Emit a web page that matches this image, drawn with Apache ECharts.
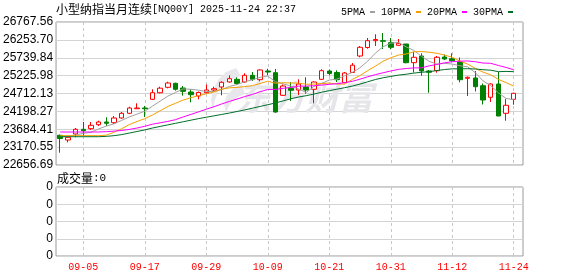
<!DOCTYPE html>
<html>
<head>
<meta charset="utf-8">
<script src="https://cdn.jsdelivr.net/npm/echarts@6/dist/echarts.min.js"></script>
<style>
html,body{margin:0;padding:0;background:#fff;}
.c{width:578px;height:276px;position:absolute;left:0;top:0;}
</style>
</head>
<body>
<div class="c" id="c0"></div>
<script>
const dates = ['09-02','09-03','09-04','09-05','09-08','09-09','09-10','09-11','09-12','09-15','09-16','09-17','09-18','09-19','09-22','09-23','09-24','09-25','09-26','09-29','09-30','10-01','10-02','10-03','10-06','10-07','10-08','10-09','10-10','10-13','10-14','10-15','10-16','10-17','10-20','10-21','10-22','10-23','10-24','10-27','10-28','10-29','10-30','10-31','11-03','11-04','11-05','11-06','11-07','11-10','11-11','11-12','11-13','11-14','11-17','11-18','11-19','11-20','11-21','11-24'];
const openP  = [23510,23375,23548,23683,23700,23815,23893,23873,24008,24143,24275,24295,24545,24735,24890,25005,24870,24755,24640,24735,24813,24899,25043,25120,25043,25235,25109,25359,25310,24660,24862,24813,24899,24833,25120,25359,25316,25028,25316,25790,26035,26230,26230,26173,26098,26135,25598,25790,25359,25368,25761,25713,25618,25149,25158,24936,24603,24985,24143,24545];
const closeP = [23419,23453,23683,23643,23798,23893,23856,24008,24143,24295,24295,24275,24735,24865,25014,24833,24775,24678,24741,24813,24850,25034,25138,25000,25235,25120,25388,25330,24180,24928,24804,24985,24813,25043,25368,25287,25109,25302,25526,26040,26230,26265,26213,26040,26155,25598,25753,25359,25322,25753,25704,25655,25109,25178,24908,24525,24985,24065,24373,24718];
const lowP   = [23010,23309,23453,23490,23663,23778,23778,23835,23988,24123,24275,24037,24525,24718,24862,24793,24649,24459,24545,24712,24755,24660,25023,24965,25023,25072,25063,25235,24160,24640,24497,24669,24706,24430,25100,25235,25043,25005,25310,25753,26000,26078,25991,25983,26078,25580,25316,25224,24735,25310,25675,25609,25034,24640,24770,24396,24468,24065,23930,24390];
const highP  = [23533,23462,23720,23893,23893,23930,24028,24065,24180,24333,24430,24353,24833,24908,25051,25023,24928,24833,24770,24971,24908,25063,25235,25178,25293,25330,25408,25425,25417,24971,25043,25120,25178,25063,25408,25402,25379,25330,25589,26078,26308,26414,26451,26308,26279,26135,25905,25868,25388,25790,25833,25868,25747,25201,25359,25000,25005,25330,24554,24735];
const ma5  = [23470,23490,23520,23565,23599,23694,23775,23840,23940,24039,24119,24203,24349,24493,24637,24744,24844,24833,24808,24768,24771,24823,24915,24967,25051,25105,25176,25215,25051,24989,24926,24845,24742,24915,25003,25099,25124,25222,25318,25453,25641,25873,26055,26158,26181,26054,25952,25781,25637,25557,25578,25559,25509,25480,25311,25075,24941,24732,24571,24533];
const ma10 = [23500,23500,23500,23500,23500,23500,23515,23600,23700,23819,23907,23989,24094,24216,24338,24432,24524,24591,24651,24702,24758,24834,24874,24888,24910,24938,25000,25065,25009,25020,25016,25011,24978,24983,24996,25013,24985,24982,25117,25228,25370,25498,25638,25738,25817,25848,25912,25918,25898,25869,25816,25755,25645,25559,25434,25327,25250,25120,25026,24922];
const ma20 = [23605,23605,23605,23605,23605,23605,23615,23630,23650,23680,23720,23770,23830,23870,23910,23960,24040,24110,24185,24261,24332,24411,24484,24552,24624,24685,24762,24828,24830,24861,24887,24922,24926,24935,24953,24976,24992,25023,25063,25124,25193,25255,25308,25360,25406,25430,25448,25450,25507,25548,25593,25627,25642,25648,25625,25587,25581,25518,25461,25394];
const ma30 = [23470,23470,23470,23470,23470,23470,23480,23500,23530,23575,23620,23665,23720,23765,23810,23855,23900,23945,23990,24030,24070,24110,24150,24195,24240,24290,24340,24390,24440,24500,24560,24611,24649,24696,24748,24794,24836,24879,24925,24983,25048,25114,25164,25203,25241,25266,25299,25322,25341,25372,25401,25421,25420,25426,25416,25396,25382,25340,25347,25340];
const priceTicks = ['22656.69','23170.55','23684.41','24198.27','24712.13','25225.98','25739.84','26253.70','26767.56'];
const volTicks = ['0','0','0','0','0'];
const maNames = ['5PMA','10PMA','20PMA','30PMA'];
const maColors = ['#a0a0a0','#f5a000','#ff00ff','#006f2a'];

const priceMin = parseFloat(priceTicks[0]);
const priceMax = parseFloat(priceTicks[priceTicks.length - 1]);
const candles = dates.map((d, i) => [openP[i], closeP[i], lowP[i], highP[i]]);
const maData = [ma5, ma10, ma20, ma30];

const mono = 'Liberation Mono';
const labelEvery = (i) => i % 8 === 3;
const hide = {show: false};

const option = {
  animation: false,
  backgroundColor: '#fff',
  legend: {data: maNames, left: 336, top: 2, align: 'right', icon: 'rect', itemWidth: 5, itemHeight: 2, itemGap: 6,
    textStyle: {fontFamily: mono, fontSize: 10, color: '#000'}, selectedMode: false},
  grid: [
    {left: 56, top: 22, width: 467, height: 143, show: true, borderColor: '#999', borderWidth: 1, backgroundColor: 'transparent'},
    {left: 60.24, top: 22, width: 453.5, height: 143},
    {left: 56, top: 187, width: 467, height: 69, show: true, borderColor: '#999', borderWidth: 1, backgroundColor: 'transparent'},
    {left: 60.24, top: 187, width: 453.5, height: 69}
  ],
  xAxis: [
    {type: 'value', gridIndex: 0, show: false, min: 0, max: 1},
    {type: 'category', gridIndex: 1, data: dates, boundaryGap: false, axisLine: hide, axisTick: hide, axisLabel: {show: false},
     splitLine: {show: true, interval: labelEvery, lineStyle: {type: [3, 3], color: '#c8c8c8'}}},
    {type: 'value', gridIndex: 2, show: false, min: 0, max: 1},
    {type: 'category', gridIndex: 3, data: dates, boundaryGap: false, axisLine: hide, axisTick: hide,
     axisLabel: {interval: labelEvery, color: '#f00', fontFamily: mono, fontSize: 10, margin: 6},
     splitLine: {show: true, interval: labelEvery, lineStyle: {type: [3, 3], color: '#c8c8c8'}}}
  ],
  yAxis: [
    {type: 'value', gridIndex: 0, min: 0, max: 8, interval: 1, axisLine: hide, axisTick: hide,
     axisLabel: {formatter: (v) => priceTicks[v], color: '#000', fontFamily: 'Liberation Sans', fontSize: 12, margin: 3},
     splitLine: {show: true, lineStyle: {color: '#d4d4d4'}}},
    {type: 'value', gridIndex: 1, min: priceMin, max: priceMax, show: false, splitLine: {show: false}},
    {type: 'value', gridIndex: 2, min: 0, max: 4, interval: 1, axisLine: hide, axisTick: hide,
     axisLabel: {formatter: (v) => volTicks[v], color: '#000', fontFamily: 'Liberation Sans', fontSize: 12, margin: 3},
     splitLine: {show: true, lineStyle: {color: '#d4d4d4'}}},
    {type: 'value', gridIndex: 3, min: 0, max: 1, show: false, splitLine: {show: false}}
  ],
  graphic: [
    {type: 'text', x: 56, y: 9, z: 10, style: {text: '{a|小型纳指当月连续}{b|[NQ00Y] 2025-11-24 22:37}', verticalAlign: 'middle',
      rich: {a: {fontFamily: 'Noto Sans CJK SC', fontSize: 12, fill: '#000'}, b: {fontFamily: mono, fontSize: 10, fill: '#000'}}}},
    {type: 'text', x: 57, y: 178, z: 10, style: {text: '{a|成交量}{b|:0}', verticalAlign: 'middle',
      rich: {a: {fontFamily: 'Noto Sans CJK SC', fontSize: 12, fill: '#000'}, b: {fontFamily: mono, fontSize: 11, fill: '#000'}}}},
    {type: 'polygon', z: 1, shape: {points: [[236,68],[226,72],[218,80],[213,90],[211,100],[213,110],[215,100],[218,92],[224,84],[232,79],[241,76]]},
     style: {fill: '#e8e8ec'}},
    {type: 'polygon', z: 1, shape: {points: [[242,84],[234,88],[227,95],[224,104],[226,113],[229,106],[233,101],[238,97],[245,94]]},
     style: {fill: '#e8e8ec'}},
    {type: 'text', x: 237, y: 97, z: 1, style: {text: '东方财富', verticalAlign: 'middle',
      font: 'italic bold 34px "Noto Sans CJK SC"', fill: '#e6e6ea'}}
  ],
  series: [
    {type: 'candlestick', name: 'K', xAxisIndex: 1, yAxisIndex: 1, data: candles, barWidth: 5, clip: false, z: 3,
     itemStyle: {color: '#ffffff', color0: '#008000', borderColor: '#ff0000', borderColor0: '#008000', borderWidth: 1}}
  ].concat(maNames.map((n, k) => ({
    type: 'line', name: n, xAxisIndex: 1, yAxisIndex: 1, data: maData[k],
    symbol: 'none', z: 4, color: maColors[k],
    itemStyle: {color: maColors[k]},
    lineStyle: {color: maColors[k], width: 1}
  })))
};
const chart = echarts.init(document.getElementById('c0'));
chart.setOption(option);
</script>
</body>
</html>
